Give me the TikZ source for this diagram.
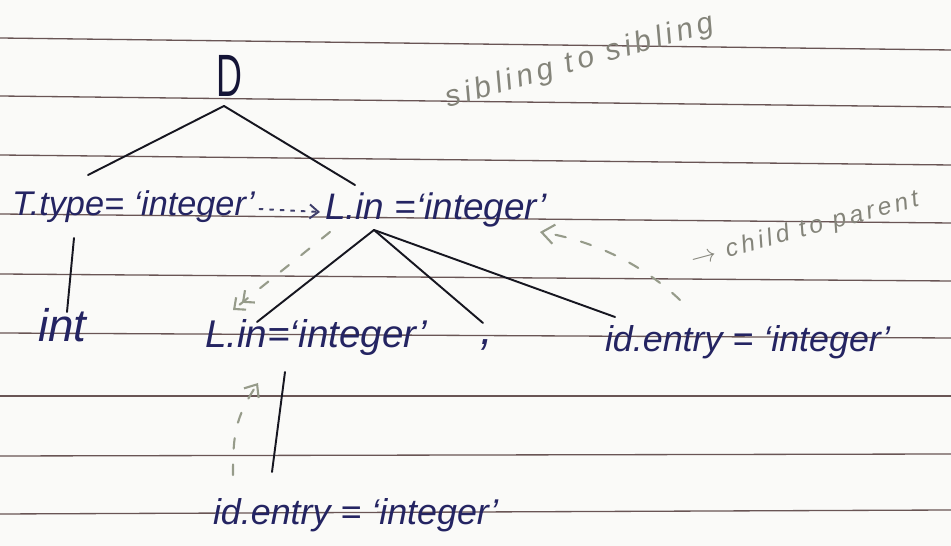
\documentclass[tikz,border=0pt]{standalone}
\usepackage{fontspec}
\setmainfont{Liberation Sans}
\newfontfamily\notefont[LetterSpace=15]{Liberation Sans}
\usetikzlibrary{arrows.meta,calc}
\definecolor{paper}{RGB}{250,250,248}
\definecolor{rulecol}{RGB}{105,85,85}
\definecolor{ink}{RGB}{36,36,98}
\definecolor{stroke}{RGB}{22,22,32}
\definecolor{pencil}{RGB}{132,132,122}
\definecolor{pencilarrow}{RGB}{150,155,138}
\tikzset{
  rule/.style={draw=rulecol, line width=0.75pt},
  lab/.style={inner sep=0pt, outer sep=0pt, text=ink, anchor=base west},
  edge/.style={draw=stroke, line width=1.1pt, line cap=round},
  passarrow/.style={draw=ink!70!gray, line width=1.1pt, dash pattern=on 2.5pt off 3.5pt,
    -{Straight Barb[length=5pt,width=8pt]}},
  flow/.style={draw=pencilarrow, line width=1.2pt, dash pattern=on 6pt off 9pt, line cap=round},
  pencilnote/.style={inner sep=0pt, text=pencil}
}
\begin{document}
\begin{tikzpicture}[x=0.02cm, y=-0.02cm]
  % page
  \fill[paper] (0,0) rectangle (951,546);
  \useasboundingbox (0,0) rectangle (951,546);
  % ruled lines of the notebook
  \foreach \a/\b in {38/50,96/107,155/165,214/223,274/281,333/338,396/396,456/454,514/510}
    \draw[rule] (0,\a) -- (951,\b);

  % tree nodes
  \node[inner sep=0pt, outer sep=0pt, anchor=base, text=ink!55!black,
        font=\fontsize{34}{34}\selectfont] (D) at (229,97) {\scalebox{0.6}[1]{D}};
  \node[lab, font=\fontsize{19.5}{20}\selectfont\itshape] (T) at (12,216) {T.type= `integer'};
  \node[lab, font=\fontsize{21}{22}\selectfont\itshape] (L) at (325,220) {L.in =`integer'};
  \node[lab, font=\fontsize{26}{26}\selectfont\itshape] (int) at (38,342) {int};
  \node[lab, font=\fontsize{22}{22}\selectfont\itshape] (L2) at (205,348) {L.in=`integer'};
  \node[lab, font=\fontsize{26}{26}\selectfont\itshape] (comma) at (480,345) {,};
  \node[lab, font=\fontsize{20.4}{21}\selectfont\itshape] (R) at (605,352) {id.entry = `integer'};
  \node[lab, font=\fontsize{20.4}{21}\selectfont\itshape] (B) at (213,525) {id.entry = `integer'};

  % attachment points of the branches
  \coordinate (Dr) at ($(D.south)+(-5,9)$);
  \coordinate (Tt) at ($(T.base west)+(76,-41)$);
  \coordinate (Tb) at ($(T.base west)+(62,22)$);
  \coordinate (intt) at ($(int.base west)+(29,-30)$);
  \coordinate (Lt) at ($(L.base west)+(30,-35)$);
  \coordinate (Lb) at ($(L.base west)+(49,10)$);
  \coordinate (L2t) at ($(L2.base west)+(52,-26)$);
  \coordinate (L2b) at ($(L2.base west)+(80,24)$);
  \coordinate (commat) at ($(comma.base west)+(3,-22)$);
  \coordinate (Rt) at ($(R.base west)+(10,-35)$);
  \coordinate (Bt) at ($(B.base west)+(59,-53)$);

  % branches
  \draw[edge] (Dr) -- (Tt);
  \draw[edge] (Dr) -- (Lt);
  \draw[edge] (Tb) -- (intt);
  \draw[edge] (Lb) -- (L2t);
  \draw[edge] (Lb) -- (commat);
  \draw[edge] (Lb) -- (Rt);
  \draw[edge] (L2b) -- (Bt);

  % inherited value passed across siblings
  \draw[passarrow] ($(T.base east)+(4,-7)$) -- ($(L.base west)+(-5,-8)$);

  % pencil arrows: parent to child, child to parent
  \draw[flow, -{Straight Barb[length=5pt,width=9pt] Straight Barb[length=5pt,width=9pt]}]
    ($(L.base west)+(5,12)$) -- ($(L2.base west)+(28,-38)$);
  \draw[flow, -{Straight Barb[length=6pt,width=10pt]}]
    ($(B.base west)+(20,-50)$) .. controls ($(B.base west)+(20,-90)$) and ($(L2.base west)+(30,70)$)
    .. ($(L2.base west)+(53,35)$);
  \draw[flow, -{Straight Barb[length=7pt,width=11pt]}]
    ($(R.base west)+(75,-52)$) .. controls ($(R.base west)+(35,-90)$) and ($(L.base west)+(265,20)$)
    .. ($(L.base west)+(215,12)$);

  % pencil notes
  \node[pencilnote, rotate=16, font=\notefont\fontsize{17}{17}\selectfont\itshape] (sib) at (580,62)
    {sibling to sibling};
  \node[pencilnote, rotate=15, font=\notefont\fontsize{14}{14}\selectfont\itshape] (cp) at (805,230)
    {$\rightarrow$ child to parent};
\end{tikzpicture}
\end{document}
